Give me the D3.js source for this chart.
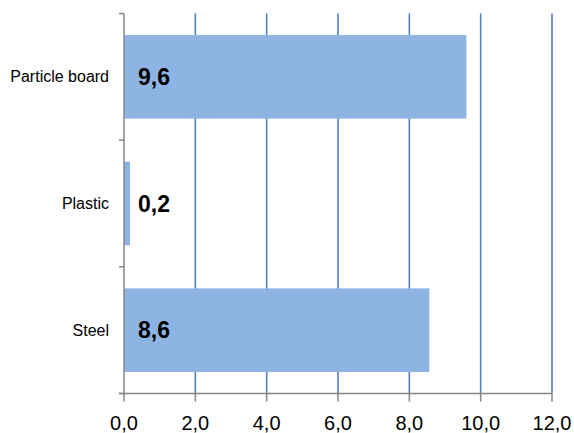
<!DOCTYPE html>
<html><head><meta charset="utf-8">
<script src="https://cdn.jsdelivr.net/npm/d3@7"></script>
<style>body{margin:0;background:#fff}svg{display:block}</style>
</head><body>
<svg id="c" width="574" height="433"></svg>
<script>
const categories = ["Particle board", "Plastic", "Steel"];
const values = [9.6, 0.17, 8.56];
const xTicks = [0, 2, 4, 6, 8, 10, 12];

(function () {
const svg = d3.select("#c");
const mL = 124, mR = 552, mT = 13.5, mB = 393.5;
const x = d3.scaleLinear().domain([0, 12]).range([mL, mR]);
const y = d3.scaleBand().domain(categories).range([mT, mB]).paddingInner(0.34).paddingOuter(0.17);
const fmt = v => d3.format(".1f")(v).replace(".", ",");

// gridlines
svg.append("g").selectAll("line").data(xTicks.filter(d => d > 0)).join("line")
  .attr("x1", d => x(d)).attr("x2", d => x(d))
  .attr("y1", mT).attr("y2", mB)
  .attr("stroke", "#4f81c4").attr("stroke-width", 1.6);

// bars
svg.append("g").selectAll("rect").data(categories).join("rect")
  .attr("x", x(0)).attr("y", d => y(d))
  .attr("width", (d, i) => x(values[i]) - x(0))
  .attr("height", y.bandwidth())
  .attr("fill", "#8eb4e3");

// y axis
const yAxis = svg.append("g");
yAxis.append("line").attr("x1", mL).attr("x2", mL).attr("y1", mT).attr("y2", mB)
  .attr("stroke", "#868686").attr("stroke-width", 1.5);
const step = (mB - mT) / categories.length;
yAxis.selectAll("line.t").data(d3.range(categories.length + 1)).join("line").attr("class", "t")
  .attr("x1", mL - 5).attr("x2", mL)
  .attr("y1", d => mT + d * step).attr("y2", d => mT + d * step)
  .attr("stroke", "#868686").attr("stroke-width", 1.5);
yAxis.selectAll("text").data(categories).join("text")
  .attr("x", 109).attr("y", d => y(d) + y.bandwidth() / 2)
  .attr("dy", "0.35em").attr("text-anchor", "end")
  .attr("font-family", "Liberation Sans, Arial, sans-serif").attr("font-size", 16)
  .attr("fill", "#000").text(d => d);

// x axis
const xAxis = svg.append("g");
xAxis.append("line").attr("x1", mL - 5).attr("x2", mR).attr("y1", mB).attr("y2", mB)
  .attr("stroke", "#868686").attr("stroke-width", 1.5);
xAxis.selectAll("line.t").data(xTicks).join("line").attr("class", "t")
  .attr("x1", d => x(d)).attr("x2", d => x(d)).attr("y1", mB).attr("y2", mB + 8)
  .attr("stroke", "#868686").attr("stroke-width", 1.5);
xAxis.selectAll("text").data(xTicks).join("text")
  .attr("x", d => x(d)).attr("y", 429.5).attr("text-anchor", "middle")
  .attr("font-family", "Liberation Sans, Arial, sans-serif").attr("font-size", 20)
  .attr("fill", "#000").text(d => fmt(d));

// value labels
svg.append("g").selectAll("text").data(categories).join("text")
  .attr("x", 138).attr("y", d => y(d) + y.bandwidth() / 2)
  .attr("dy", "0.35em")
  .attr("font-family", "Liberation Sans, Arial, sans-serif").attr("font-size", 23).attr("font-weight", "bold")
  .attr("fill", "#000").text((d, i) => fmt(values[i]));
})();
</script>
</body></html>
